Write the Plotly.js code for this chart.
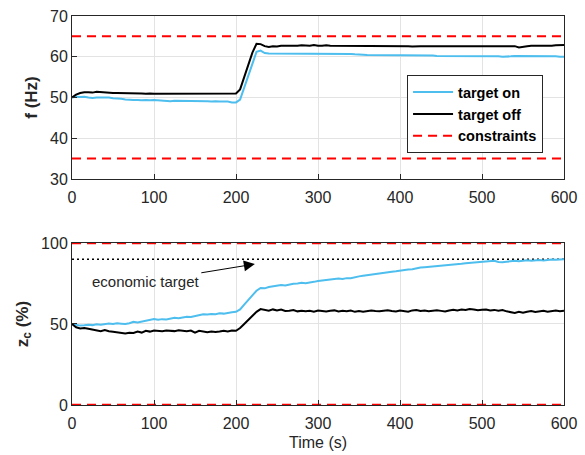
<!DOCTYPE html>
<html>
<head>
<meta charset="utf-8">
<script src="https://cdn.plot.ly/plotly-3.0.1.min.js"></script>
<style>html,body{margin:0;padding:0;background:#fff;}#chart{width:585px;height:455px;}</style>
</head>
<body>
<div id="chart"></div>
<script>
// Time grid (s)
const time = [0,5,10,15,20,25,30,35,40,45,50,55,60,65,70,75,80,85,90,95,
100,105,110,115,120,125,130,135,140,145,150,155,160,165,170,175,180,185,190,195,
200,205,210,215,220,225,230,235,240,245,250,255,260,265,270,275,280,285,290,295,
300,305,310,315,320,325,330,335,340,345,350,355,360,365,370,375,380,385,390,395,
400,405,410,415,420,425,430,435,440,445,450,455,460,465,470,475,480,485,490,495,
500,505,510,515,520,525,530,535,540,545,550,555,560,565,570,575,580,585,590,595,600];

// Frequency f (Hz)
const fTargetOn = [50,50.2,50.1,50.2,50.0,49.9,50.0,50.0,49.9,50.0,49.8,49.8,49.7,49.5,49.4,49.4,49.4,49.3,49.4,49.3,
49.4,49.3,49.2,49.2,49.1,49.2,49.2,49.2,49.1,49.2,49.1,49.1,49.1,49.1,49.0,49.1,49.0,49.0,49.0,48.8,
48.8,49.5,52.5,55.5,58.5,61.2,61.5,60.9,60.8,60.8,60.8,60.8,60.8,60.8,60.8,60.8,60.8,60.8,60.8,60.8,
60.8,60.8,60.8,60.8,60.7,60.7,60.7,60.7,60.7,60.6,60.6,60.5,60.4,60.4,60.4,60.4,60.4,60.4,60.4,60.4,
60.4,60.4,60.4,60.3,60.3,60.3,60.3,60.3,60.3,60.2,60.2,60.2,60.1,60.1,60.1,60.1,60.2,60.2,60.2,60.2,
60.2,60.2,60.2,60.1,60.1,60.0,60.0,60.1,60.2,60.2,60.2,60.2,60.2,60.2,60.1,60.1,60.1,60.1,60.1,60.0,60.0];

const fTargetOff = [50,50.7,51.1,51.3,51.3,51.2,51.4,51.3,51.2,51.2,51.1,51.1,51.1,51.1,51.0,51.0,51.0,51.0,50.9,51.0,
50.9,50.9,50.9,50.9,50.9,50.9,50.9,50.9,50.9,50.9,50.9,50.9,50.9,50.9,50.9,50.9,50.9,50.9,51.0,51.0,
51.0,52.0,55.0,58.0,61.0,63.2,63.1,62.6,62.4,62.6,62.5,62.7,62.7,62.6,62.6,62.7,62.8,62.7,62.7,62.9,
62.7,62.7,62.8,62.7,62.7,62.7,62.6,62.6,62.7,62.7,62.7,62.7,62.6,62.6,62.6,62.7,62.6,62.6,62.6,62.6,
62.6,62.6,62.6,62.5,62.6,62.6,62.6,62.6,62.6,62.6,62.6,62.6,62.6,62.6,62.6,62.6,62.7,62.7,62.7,62.7,
62.7,62.7,62.7,62.7,62.6,62.6,62.6,62.6,62.6,62.3,62.5,62.6,62.7,62.7,62.6,62.6,62.7,62.7,62.8,62.8,62.9];

// Storage level z_c (%)
const zTargetOn = [50,49.5,49,49.2,49.5,49.3,49.8,49.5,50,50.3,50,50.4,50.2,50,50.5,51.3,51,51.5,52,52.5,
53,52.6,53,52.8,53.3,53.8,53.5,54.2,54.5,54.3,55,55.3,56,55.8,56.2,56,56.6,56.4,57,57.2,
57.5,59,62,65,68,70.5,72.2,72,72.8,73.2,73.5,74,73.8,74.5,74.8,75,75.4,75.2,75.8,76,
76.5,76.8,77.3,77.2,77.6,78,77.8,78.3,78.2,79,79.4,79.8,80.2,80.6,81,81.2,81.5,82,82.3,82.5,
83,83.2,83.6,83.8,84.5,84.8,85,85.2,85.5,85.8,86,86.2,86.4,86.8,87,87.2,87.5,87.7,88,88.3,
88.5,88.8,88.6,89,88.3,88.1,88.4,88.7,89,88.8,89.2,89.3,89,89.4,89.5,89.2,89.6,89.8,89.6,90,90];

const zTargetOff = [50,48,47.2,47.5,47,46.5,46,45.5,46.3,45.5,45.2,45,44.8,44.2,44.6,44.5,45.3,44.7,45.8,45.3,
46,45.8,45.5,46,45.7,45.6,46.1,45.8,45.5,45.9,44.6,45.8,45.3,44.9,45.4,45,45.3,45.8,45.4,46,
45.8,47.5,50,52.5,55,57.5,59.2,58.5,58.2,59,58.3,58.9,58,58.2,58.6,57.8,58.2,57.9,58.1,57.6,
58.3,58,57.7,58.2,58.4,57.7,58.1,57.8,58.3,57.5,58,57.6,57.9,58.3,58,57.8,58.2,58.5,58,57.7,
58.3,58,57.6,58.4,58.6,58,58.3,57.8,58.2,58.5,58.1,57.7,58.3,58.8,58.4,58.9,58.6,59.2,59,58.5,
58.8,59,58.4,58.7,58.2,58.6,57.8,57.4,56.8,57.5,56.9,57.6,58,57.4,57.8,58.2,57.6,58,58.3,57.8,58.2];

// Constraints and target
const tSpan = [0, 600];
const fMax = [65, 65], fMin = [35, 35];
const zMax = [100, 100], zMin = [0, 0];
const zEconomic = [90, 90];

const xTicks = [0,100,200,300,400,500,600];

const BLUE = '#4DBEEE', RED = '#FF0000';
const dashPat = '9px,6px';
const FAM = 'Liberation Sans, Arial, sans-serif';

const traces = [
  {x: tSpan, y: fMax, mode:'lines', line:{color:RED, width:2, dash:dashPat}, name:'constraints', legendrank:3, xaxis:'x', yaxis:'y', showlegend:true},
  {x: tSpan, y: fMin, mode:'lines', line:{color:RED, width:2, dash:dashPat}, showlegend:false, xaxis:'x', yaxis:'y'},
  {x: time, y: fTargetOn, mode:'lines', line:{color:BLUE, width:2}, name:'target on', legendrank:1, xaxis:'x', yaxis:'y'},
  {x: time, y: fTargetOff, mode:'lines', line:{color:'#000', width:2}, name:'target off', legendrank:2, xaxis:'x', yaxis:'y'},
  {x: tSpan, y: zEconomic, mode:'lines', line:{color:'#000', width:1.5, dash:'2px,3px'}, showlegend:false, xaxis:'x2', yaxis:'y2'},
  {x: time, y: zTargetOn, mode:'lines', line:{color:BLUE, width:2}, showlegend:false, xaxis:'x2', yaxis:'y2'},
  {x: time, y: zTargetOff, mode:'lines', line:{color:'#000', width:2}, showlegend:false, xaxis:'x2', yaxis:'y2'},
  {x: tSpan, y: zMax, mode:'lines', line:{color:RED, width:2.5, dash:dashPat}, showlegend:false, xaxis:'x2', yaxis:'y2', cliponaxis:false},
  {x: tSpan, y: zMin, mode:'lines', line:{color:RED, width:2.5, dash:dashPat}, showlegend:false, xaxis:'x2', yaxis:'y2', cliponaxis:false}
];

const axFont = {family:FAM, size:16, color:'#262626'};
const baseX = {range:[0,600], tickvals:xTicks, showline:true, mirror:true, linecolor:'#262626', linewidth:1,
  ticks:'inside', ticklen:5, tickcolor:'#262626', showgrid:true, gridcolor:'#e3e3e3', zeroline:false, tickfont:axFont,
  ticklabelstandoff:4, fixedrange:true};
const baseY = {showline:true, mirror:true, linecolor:'#262626', linewidth:1,
  ticks:'inside', ticklen:5, tickcolor:'#262626', showgrid:true, gridcolor:'#e3e3e3', zeroline:false, tickfont:axFont, fixedrange:true};

const layout = {
  width:585, height:455,
  margin:{l:72, r:21, t:16, b:50},
  paper_bgcolor:'#fff', plot_bgcolor:'#fff',
  font:{family:FAM, color:'#262626'},
  xaxis: Object.assign({}, baseX, {domain:[0,1], anchor:'y'}),
  yaxis: Object.assign({}, baseY, {domain:[0.581,1], range:[30,70], tickvals:[30,40,50,60,70], anchor:'x',
    title:{text:'<b>f (Hz)</b>', font:{family:FAM, size:17, color:'#262626'}, standoff:8}}),
  xaxis2: Object.assign({}, baseX, {domain:[0,1], anchor:'y2',
    title:{text:'Time (s)', font:{family:FAM, size:16, color:'#262626'}, standoff:5}}),
  yaxis2: Object.assign({}, baseY, {domain:[0,0.4165], range:[0,100], tickvals:[0,50,100], anchor:'x2',
    title:{text:'<b>z<sub>c</sub> (%)</b>', font:{family:FAM, size:17, color:'#262626'}, standoff:8}}),
  showlegend:true,
  legend:{x:0.681, y:0.848, xanchor:'left', yanchor:'top', bgcolor:'#fff', bordercolor:'#262626', borderwidth:1,
    font:{family:FAM, size:14.5, color:'#000', weight:'bold'}, itemwidth:40, tracegroupgap:0,
    traceorder:'normal'},
  annotations:[{
    xref:'x2', yref:'y2', x:223, y:87, axref:'x2', ayref:'y2', ax:90, ay:76,
    text:'economic target', showarrow:true, arrowhead:2, arrowsize:2.2, arrowwidth:1, arrowcolor:'#000',
    font:{family:FAM, size:15, color:'#262626'}
  }]
};

Plotly.newPlot('chart', traces, layout, {staticPlot:true, displayModeBar:false});
</script>
</body>
</html>
